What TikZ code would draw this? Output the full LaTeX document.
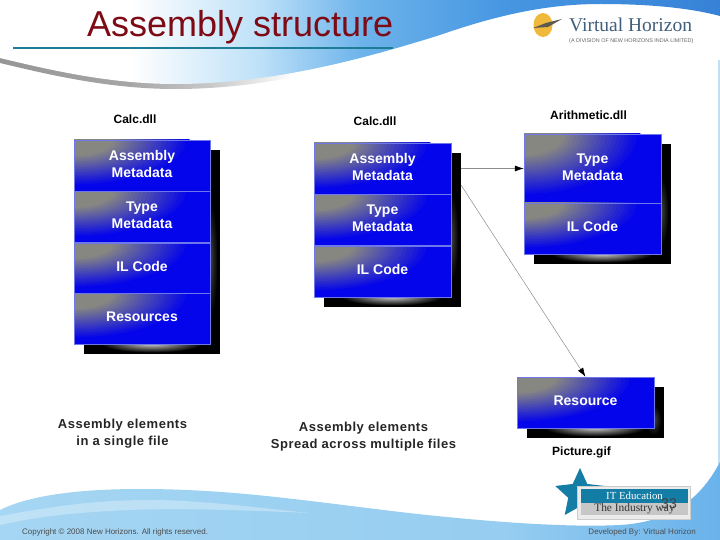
\documentclass[tikz,border=0pt]{standalone}
\usepackage{fontspec}
\setmainfont{Liberation Sans}
\newfontfamily\serifvh{Liberation Serif}
\usetikzlibrary{arrows.meta,shapes.geometric}
\definecolor{boxblue}{RGB}{5,5,235}
\definecolor{boxgrey}{RGB}{135,135,130}
\definecolor{boxedge}{RGB}{110,120,235}
\definecolor{titlered}{RGB}{125,10,20}
\definecolor{rulet}{RGB}{30,125,150}
\definecolor{tealb}{RGB}{20,125,165}
\definecolor{skyA}{RGB}{190,225,248}
\definecolor{skyB}{RGB}{110,180,235}
\definecolor{skyC}{RGB}{70,150,225}
\definecolor{skyD}{RGB}{55,130,215}
\definecolor{skyL}{RGB}{165,214,243}
\definecolor{skyM}{RGB}{150,205,240}
\definecolor{skyR}{RGB}{105,178,235}
\definecolor{skyE}{RGB}{190,225,248}
\definecolor{shA}{RGB}{150,150,150}
\definecolor{shB}{RGB}{165,165,165}
\definecolor{shC}{RGB}{200,200,200}
\definecolor{sunc}{RGB}{240,185,60}
\definecolor{birdc}{RGB}{90,90,80}
\definecolor{vhc}{RGB}{65,95,125}
\definecolor{glowA}{RGB}{215,215,215}
\definecolor{glowB}{RGB}{70,70,70}
\pgfdeclarehorizontalshading{topband}{100bp}{color(0bp)=(white); color(34bp)=(white); color(43bp)=(skyA); color(50bp)=(skyB); color(60bp)=(skyC); color(75bp)=(skyD); color(100bp)=(skyD)}
\pgfdeclarehorizontalshading{topshadow}{100bp}{color(0bp)=(shA); color(25bp)=(shA); color(40bp)=(shB); color(50bp)=(shC); color(60bp)=(white); color(100bp)=(white)}
\pgfdeclarehorizontalshading{botband}{100bp}{color(0bp)=(skyL); color(25bp)=(skyL); color(60bp)=(skyM); color(75bp)=(skyR); color(100bp)=(skyR)}
\newcommand\lift[1]{\raisebox{1pt}{\begin{tabular}{@{}c@{}}#1\end{tabular}}}
\tikzset{
  x=1pt,y=-1pt,
  gradbox/.style n args={2}{rectangle,draw=boxedge,line width=.5pt,fill=boxblue,inner sep=0pt,
    minimum width=#1pt,minimum height=#2pt,text=white,align=center,
    font=\fontsize{14}{17}\selectfont\bfseries,
    path picture={
      \foreach \i in {30,29,...,1}{
        \pgfmathsetmacro\pc{max(0,(\i/30-.35)/.65*100)}
        \fill[boxblue!\pc!boxgrey] (path picture bounding box.north west) ellipse [x radius=#1*.85pt*\i/30,y radius=#2*.9pt*\i/30];
      }}},
  shadowbox/.style n args={2}{rectangle,fill=black,inner sep=0pt,minimum width=#1pt,minimum height=#2pt,
    path picture={
      \foreach \i in {24,23,...,1}{
        \pgfmathsetmacro\pc{100*\i/24}
        \fill[black!\pc!glowB] ([xshift=-10pt,yshift=-8pt]path picture bounding box.east) ellipse [x radius=8pt*\i/24,y radius=#2*.3pt*\i/24];
      }
      \foreach \i in {24,23,...,1}{
        \pgfmathsetmacro\pc{100*\i/24}
        \fill[black!\pc!glowA] ([yshift=10pt]path picture bounding box.south) ellipse [x radius=#1*.38pt*\i/24,y radius=9pt*\i/24];
      }}},
  dll/.style={font=\fontsize{12}{14}\selectfont\bfseries,text=black,inner sep=0pt},
  captext/.style={font=\fontsize{13}{17}\selectfont\bfseries\addfontfeature{LetterSpace=4},align=center,inner sep=0pt,text=black!85},
  conn/.style={draw=black!45,line width=.5pt,-{Latex[black,length=9pt,width=6pt]}},
}
\begin{document}
\begin{tikzpicture}
\useasboundingbox (0,0) rectangle (720,540);
\fill[white] (0,0) rectangle (720,540);
% top swoosh
\path[shading=topshadow] (0,0) -- (0,63) .. controls (50,75) and (110,89) .. (175,89) .. controls (260,89) and (340,70) .. (420,42) -- (420,0) -- cycle;
\path[shading=topband] (0,0) -- (0,58) .. controls (50,70) and (110,84) .. (175,84) .. controls (270,84) and (360,60) .. (440,35) .. controls (500,14) and (550,4) .. (600,4) .. controls (650,4) and (690,8) .. (720,16) -- (720,0) -- cycle;
% bottom swoosh
\fill[skyE] (720,60) rectangle (718,470);
\path[shading=botband] (0,510) .. controls (30,495) and (80,489) .. (140,489) .. controls (230,489) and (300,500) .. (400,512) .. controls (470,520) and (560,528) .. (620,525) .. controls (670,522) and (700,500) .. (720,462) -- (720,540) -- (0,540) -- cycle;
\fill[white,opacity=.3] (0,516) .. controls (60,505) and (100,500) .. (150,500) .. controls (200,500) and (260,508) .. (310,513) .. controls (240,510) and (180,508) .. (130,510) .. controls (80,512) and (40,516) .. (0,525) -- cycle;
% title
\node[anchor=base west,inner sep=0pt,text=titlered,font=\fontsize{36}{38}\selectfont] (title) at (87,37) {Assembly structure};
\coordinate (ruleL) at (13,48);
\coordinate (ruleR) at (393,48);
\draw[rulet,line width=2.6pt] (ruleL) -- (ruleR);
% logo
\node[ellipse,fill=sunc,minimum width=19pt,minimum height=24pt,inner sep=0pt] (sun) at (543,25) {};
\coordinate (birdL) at (533,28);
\coordinate (birdM) at (546,23);
\coordinate (birdR) at (562,19);
\fill[birdc] (birdL) -- (birdM) -- (birdR) -- (548,27) -- cycle;
\node[anchor=base west,inner sep=0pt,text=vhc,font=\serifvh\fontsize{19.5}{20}\selectfont] (vh) at (569,32) {Virtual Horizon};
\node[anchor=base west,inner sep=0pt,text=black!60,font=\fontsize{5.4}{6}\selectfont] (vhsub) at (569,42.5) {(A DIVISION OF NEW HORIZONS INDIA LIMITED)};
% left stack
\node[shadowbox={136}{204}] (lsh) at (152,252) {};
\node[gradbox={136}{51}] (l1) at (142,165.5) {\lift{Assembly\\Metadata}};
\node[gradbox={136}{51}] (l2) at (142,217) {\lift{Type\\Metadata}};
\node[gradbox={136}{50}] (l3) at (142,268) {\lift{IL Code}};
\node[gradbox={136}{51}] (l4) at (142,318.5) {\lift{Resources}};
\node[dll] (calcA) at (135,119) {Calc.dll};
% middle stack
\node[shadowbox={137}{154}] (msh) at (392.5,230) {};
\node[gradbox={137}{51}] (m1) at (382.5,168.5) {\lift{Assembly\\Metadata}};
\node[gradbox={137}{51}] (m2) at (382.5,220) {\lift{Type\\Metadata}};
\node[gradbox={137}{51}] (m3) at (382.5,271.5) {\lift{IL Code}};
\node[dll] (calcB) at (375,121.5) {Calc.dll};
% right stack
\node[shadowbox={137}{120}] (rsh) at (602.5,204) {};
\node[gradbox={137}{69}] (r1) at (592.5,168.5) {\lift{Type\\Metadata}};
\node[gradbox={137}{51}] (r2) at (592.5,228.5) {\lift{IL Code}};
\node[dll] (arith) at (588.5,115) {Arithmetic.dll};
% resource
\node[shadowbox={137}{51}] (psh) at (595.5,412.5) {};
\node[gradbox={137}{51}] (res) at (585.5,402.5) {\lift{Resource}};
\node[dll] (pic) at (581.5,452) {Picture.gif};
% connectors
\coordinate (dstart) at (461,185);
\draw[conn] (msh.east |- m1.east) -- (r1.west);
\draw[conn] (dstart) -- (res.north);
% captions
\node[captext] (capA) at (122.5,434) {Assembly elements\\in a single file};
\node[captext] (capB) at (363.5,437) {Assembly elements\\Spread across multiple files};
% badge
\node[star,star points=5,star point ratio=2.1,fill=tealb,minimum size=52pt,inner sep=0pt] (star) at (580,494) {};
\node[rectangle,fill=white!92!black,draw=black!20,line width=1pt,minimum width=113pt,minimum height=33pt,inner sep=0pt] (badge) at (634,502.5) {};
\node[rectangle,fill=tealb,minimum width=107pt,minimum height=14pt,inner sep=0pt,text=white,font=\serifvh\fontsize{10.8}{11}\selectfont] (edu) at (634.5,496) {IT Education};
\node[rectangle,fill=black!22,minimum width=107pt,minimum height=12.5pt,inner sep=0pt,text=black!80,font=\serifvh\fontsize{11.4}{12}\selectfont] (way) at (634.5,509.2) {The Industry way};
\node[inner sep=0pt,font=\fontsize{14}{14}\selectfont,text=black!75] (num) at (669,504) {33};
% footer
\node[anchor=base west,inner sep=0pt,font=\fontsize{8}{9}\selectfont,text=black!70] (copy) at (22,534) {Copyright © 2008 New Horizons. All rights reserved.};
\node[anchor=base east,inner sep=0pt,font=\fontsize{8}{9}\selectfont,text=black!70] (dev) at (696,534) {Developed By: Virtual Horizon};
\end{tikzpicture}
\end{document}
